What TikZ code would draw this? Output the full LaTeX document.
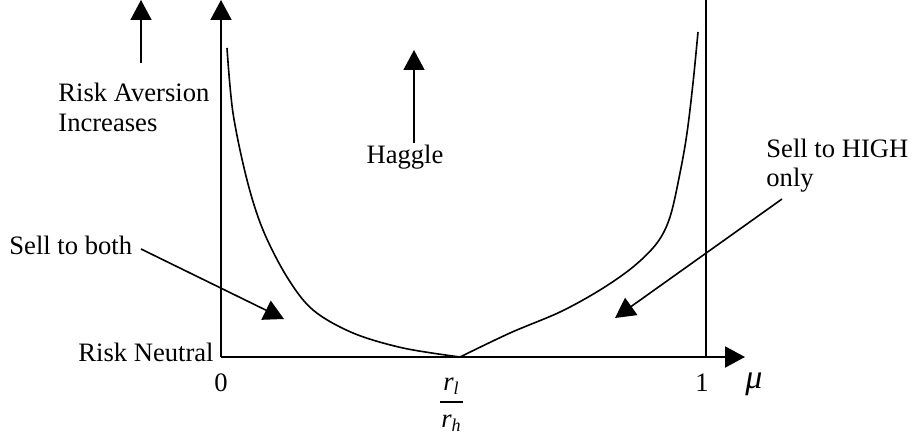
\documentclass[tikz,border=0pt]{standalone}
\usepackage{fontspec}
\setmainfont{Liberation Serif}
\usetikzlibrary{arrows.meta}
\begin{document}
\begin{tikzpicture}[x=0.5pt,y=-0.5pt,
  lbl/.style={inner sep=0pt,font=\fontsize{13.3}{15}\selectfont},
  tip/.style={-{Triangle[length=10pt,width=10.5pt]}},
  axis/.style={line width=1pt},
  pointer/.style={line width=0.8pt,tip},
  curve/.style={line width=0.8pt}]
\useasboundingbox (0,0) rectangle (914,444);
% axes
\coordinate (O) at (221,357);
\coordinate (ytop) at (221,0);
\coordinate (xend) at (745,357);
\coordinate (onebot) at (706,357);
\coordinate (onetop) at (706,0);
\draw[axis,tip] (O) -- (ytop);
\draw[axis,tip] (O) -- (xend);
\draw[axis] (onebot) -- (onetop);
% curve
\coordinate (min) at (460,357);
\draw[curve] plot[smooth,tension=0.55] coordinates {(227,48) (233,113) (247,180) (263,230) (287,277) (313,310) (353,333) (403,348) (460,357)};
\draw[curve] plot[smooth,tension=0.55] coordinates {(460,357) (510,333) (560,312) (600,290) (633,267) (657,243) (670,217) (680,173) (687,133) (693,83) (698,32)};
% labels
\node[lbl,anchor=west] (ra1) at (58,92) {Risk Aversion};
\node[lbl,anchor=west] (ra2) at (58,123) {Increases};
\coordinate (rabot) at (141,63);
\coordinate (ratop) at (141,0);
\draw[pointer] (rabot) -- (ratop);
\node[lbl] (hag) at (405,157) {Haggle};
\coordinate (hagbot) at (414,143);
\coordinate (hagtop) at (414,50);
\draw[pointer] (hagbot) -- (hagtop);
\node[lbl,anchor=west] (both) at (9,245) {Sell to both};
\coordinate (bothtip) at (284,319);
\draw[pointer] (141,249) -- (bothtip);
\node[lbl,anchor=west] (high1) at (766,148) {Sell to HIGH};
\node[lbl,anchor=west] (high2) at (766,180) {only};
\coordinate (hightip) at (615,318);
\draw[pointer] (782,199) -- (hightip);
\node[lbl,anchor=east] (rn) at (214,352) {Risk Neutral};
\node[lbl] (zero) at (221,383) {0};
\node[lbl] (one) at (702,383) {1};
\node[lbl,font=\fontsize{17}{19}\selectfont\itshape] (mu) at (754,384) {μ};
\node[lbl] (rl) at (451,386) {\textit{r}\raisebox{-0.35ex}{\fontsize{9}{10}\selectfont\textit{l}}};
\node[lbl] (rh) at (451,423) {\textit{r}\raisebox{-0.35ex}{\fontsize{9}{10}\selectfont\textit{h}}};
\draw[line width=0.6pt] (440,402) -- (463,402);
\end{tikzpicture}
\end{document}
